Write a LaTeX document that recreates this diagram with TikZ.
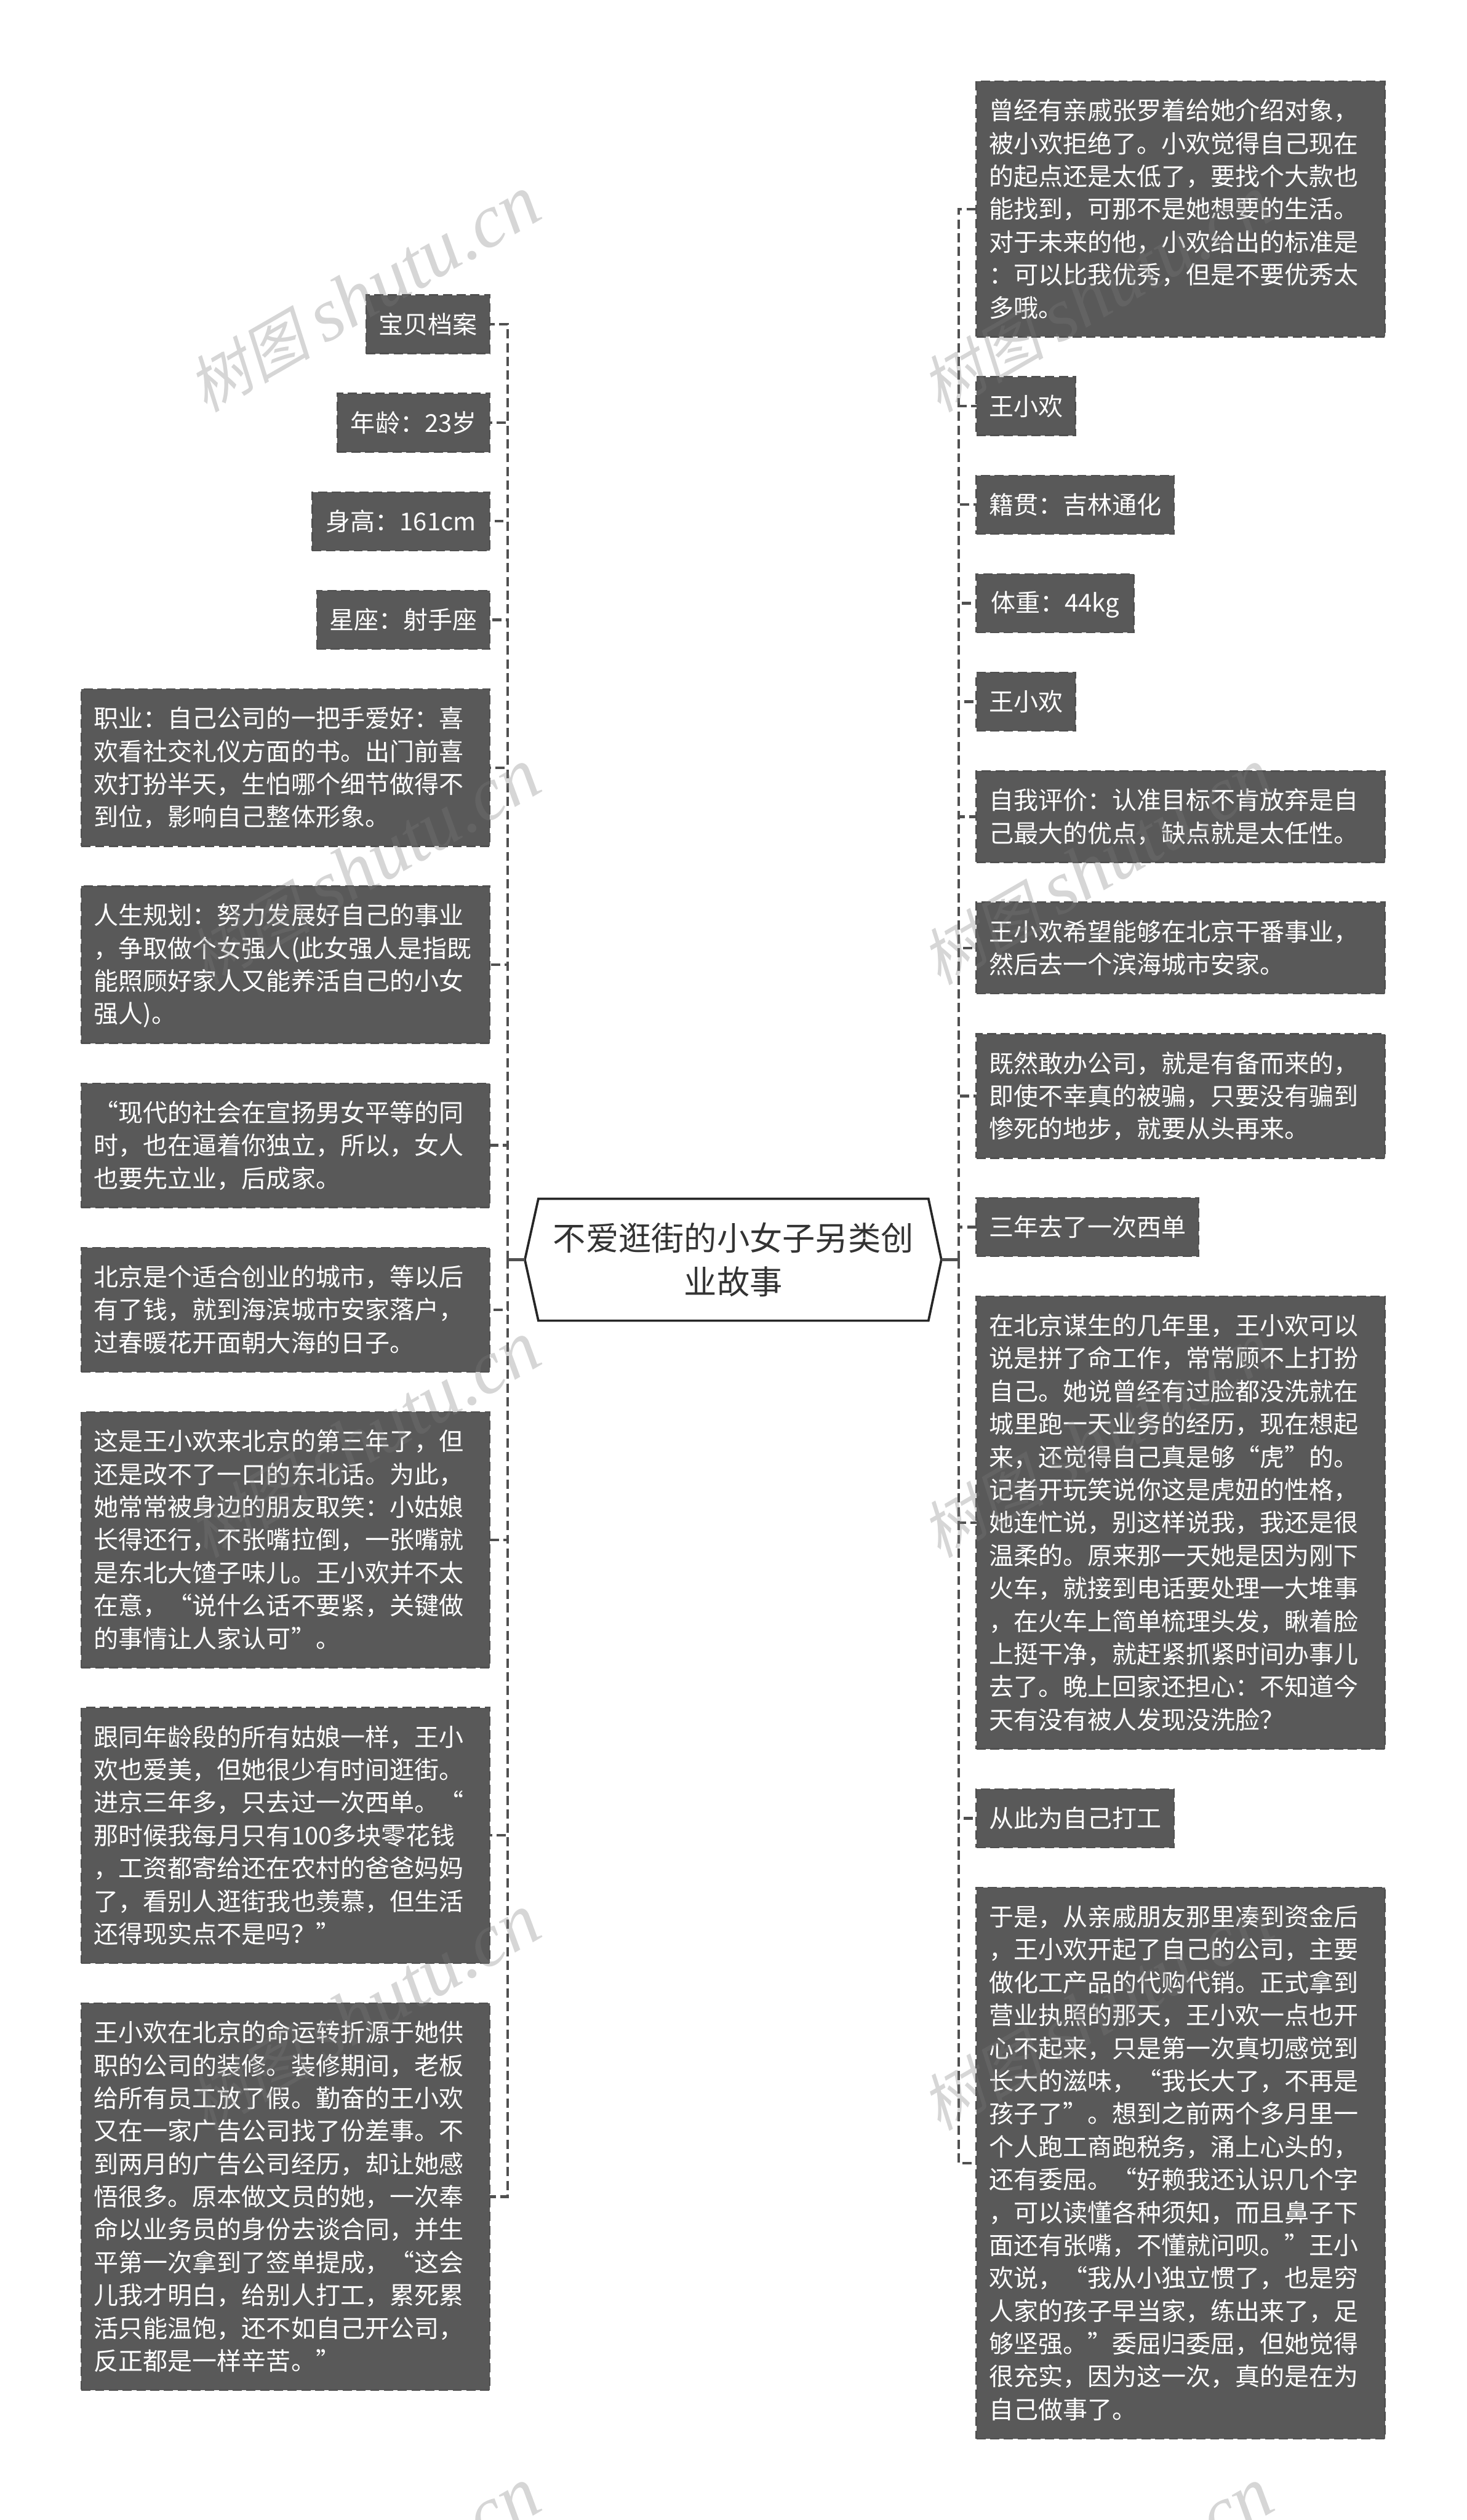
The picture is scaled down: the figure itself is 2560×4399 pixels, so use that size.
\documentclass[tikz,border=0pt]{standalone}
\usepackage{fontspec}
\setmainfont{Noto Sans CJK SC}
\newfontfamily\wmcjk[FakeSlant=0.22]{Noto Sans CJK SC}
\newfontfamily\wmlat{Liberation Serif}[ItalicFont=* Italic]
\newcommand{\shutu}{\fontsize{54pt}{60pt}\selectfont\wmcjk 树图 \fontsize{66pt}{60pt}\selectfont\wmlat\itshape shutu.cn}
\definecolor{leafgray}{HTML}{595959}
\definecolor{linegray}{HTML}{505050}
\definecolor{wmgray}{HTML}{7A7A7A}
\definecolor{rootink}{HTML}{333333}
\tikzset{
every leaf/.style={fill=leafgray, draw=linegray, line width=1.33pt, dash pattern=on 8pt off 4pt,
    text=white, font=\fontsize{21.5pt}{28.67pt}\selectfont, inner xsep=11pt, inner ysep=0pt, outer sep=0pt,
    execute at begin node={\rule{0pt}{.93em}}, execute at end node={\rule[-.18em]{0pt}{.18em}}},
}

\begin{document}
\begin{tikzpicture}[x=0.5pt, y=-0.5pt,
                        nl/.style={minimum height={(57.33*#1+44.67)*0.5pt}},
                        leafl/.style={every leaf, anchor=north east, nl=#1},
                        leafr/.style={every leaf, anchor=north west, nl=#1},
                        wide/.style={text width=334.5pt, align=left},
                        slim/.style={minimum width=#1*0.5pt},
                        link/.style={draw=linegray, line width=2.3pt, dash pattern=on 8pt off 4pt},
                        stem/.style={draw=linegray, line width=2.3pt},
                        hexa/.style={draw=black!85, line width=2pt, fill=white},
                        wm/.style={rotate=30, text=wmgray, text opacity=0.31},
                    ]
                    \useasboundingbox (0,0) rectangle (2560,4399);
                    \node[leafl=1, slim=215] (a1) at (855,515) {宝贝档案};
                    \node[leafl=1, slim=266] (a2) at (855,687) {年龄：23岁};
                    \node[leafl=1, slim=310] (a3) at (855,859) {身高：161cm};
                    \node[leafl=1, slim=300] (a4) at (855,1031) {星座：射手座};
                    \node[leafl=4, wide] (a5) at (855,1203) {职业：自己公司的一把手爱好：喜\\欢看社交礼仪方面的书。出门前喜\\欢打扮半天，生怕哪个细节做得不\\到位，影响自己整体形象。};
                    \node[leafl=4, wide] (a6) at (855,1547) {人生规划：努力发展好自己的事业\\，争取做个女强人(此女强人是指既\\能照顾好家人又能养活自己的小女\\强人)。};
                    \node[leafl=3, wide] (a7) at (855,1891) {“现代的社会在宣扬男女平等的同\\时，也在逼着你独立，所以，女人\\也要先立业，后成家。};
                    \node[leafl=3, wide] (a8) at (855,2178) {北京是个适合创业的城市，等以后\\有了钱，就到海滨城市安家落户，\\过春暖花开面朝大海的日子。};
                    \node[leafl=7, wide] (a9) at (855,2465) {这是王小欢来北京的第三年了，但\\还是改不了一口的东北话。为此，\\她常常被身边的朋友取笑：小姑娘\\长得还行，不张嘴拉倒，一张嘴就\\是东北大馇子味儿。王小欢并不太\\在意，“说什么话不要紧，关键做\\的事情让人家认可”。};
                    \node[leafl=7, wide] (a10) at (855,2981) {跟同年龄段的所有姑娘一样，王小\\欢也爱美，但她很少有时间逛街。\\进京三年多，只去过一次西单。“\\那时候我每月只有100多块零花钱\\，工资都寄给还在农村的爸爸妈妈\\了，看别人逛街我也羡慕，但生活\\还得现实点不是吗？”};
                    \node[leafl=11, wide] (a11) at (855,3497) {王小欢在北京的命运转折源于她供\\职的公司的装修。装修期间，老板\\给所有员工放了假。勤奋的王小欢\\又在一家广告公司找了份差事。不\\到两月的广告公司经历，却让她感\\悟很多。原本做文员的她，一次奉\\命以业务员的身份去谈合同，并生\\平第一次拿到了签单提成，“这会\\儿我才明白，给别人打工，累死累\\活只能温饱，还不如自己开公司，\\反正都是一样辛苦。”};
                    \node[leafr=7, wide] (b1) at (1704,142) {曾经有亲戚张罗着给她介绍对象，\\被小欢拒绝了。小欢觉得自己现在\\的起点还是太低了，要找个大款也\\能找到，可那不是她想要的生活。\\对于未来的他，小欢给出的标准是\\：可以比我优秀，但是不要优秀太\\多哦。};
                    \node[leafr=1, slim=173] (b2) at (1704,658) {王小欢};
                    \node[leafr=1, slim=343] (b3) at (1704,830) {籍贯：吉林通化};
                    \node[leafr=1, slim=275] (b4) at (1704,1002) {体重：44kg};
                    \node[leafr=1, slim=173] (b5) at (1704,1174) {王小欢};
                    \node[leafr=2, wide] (b6) at (1704,1346) {自我评价：认准目标不肯放弃是自\\己最大的优点，缺点就是太任性。};
                    \node[leafr=2, wide] (b7) at (1704,1575) {王小欢希望能够在北京干番事业，\\然后去一个滨海城市安家。};
                    \node[leafr=3, wide] (b8) at (1704,1805) {既然敢办公司，就是有备而来的，\\即使不幸真的被骗，只要没有骗到\\惨死的地步，就要从头再来。};
                    \node[leafr=1, slim=385] (b9) at (1704,2091) {三年去了一次西单};
                    \node[leafr=13, wide] (b10) at (1704,2263) {在北京谋生的几年里，王小欢可以\\说是拼了命工作，常常顾不上打扮\\自己。她说曾经有过脸都没洗就在\\城里跑一天业务的经历，现在想起\\来，还觉得自己真是够“虎”的。\\记者开玩笑说你这是虎妞的性格，\\她连忙说，别这样说我，我还是很\\温柔的。原来那一天她是因为刚下\\火车，就接到电话要处理一大堆事\\，在火车上简单梳理头发，瞅着脸\\上挺干净，就赶紧抓紧时间办事儿\\去了。晚上回家还担心：不知道今\\天有没有被人发现没洗脸？};
                    \node[leafr=1, slim=343] (b11) at (1704,3123) {从此为自己打工};
                    \node[leafr=16, wide] (b12) at (1704,3295) {于是，从亲戚朋友那里凑到资金后\\，王小欢开起了自己的公司，主要\\做化工产品的代购代销。正式拿到\\营业执照的那天，王小欢一点也开\\心不起来，只是第一次真切感觉到\\长大的滋味，“我长大了，不再是\\孩子了”。想到之前两个多月里一\\个人跑工商跑税务，涌上心头的，\\还有委屈。“好赖我还认识几个字\\，可以读懂各种须知，而且鼻子下\\面还有张嘴，不懂就问呗。”王小\\欢说，“我从小独立惯了，也是穷\\人家的孩子早当家，练出来了，足\\够坚强。”委屈归委屈，但她觉得\\很充实，因为这一次，真的是在为\\自己做事了。};
                    \coordinate (rootw) at (916,2199);
                    \coordinate (roote) at (1643,2199);
                    \coordinate (triml) at (886,2199);
                    \coordinate (trimr) at (1673,2199);
                    \node[minimum width=340pt, minimum height=106pt, inner sep=0pt] (root) at (1280,2199) {};
                    \draw[hexa] (root.north west) -- (root.north east) -- (roote) -- (root.south east) -- (root.south west) -- (rootw) -- cycle;
                    \node[text=rootink, align=center, font=\fontsize{28.6pt}{38.3pt}\selectfont, inner sep=0pt] (title) at (root.center) {不爱逛街的小女子另类创\\业故事};
                    \draw[stem] (rootw) -- (triml);
                    \draw[stem] (roote) -- (trimr);
                    \draw[link] (triml) |- (a1.east);
                    \draw[link] (triml) |- (a2.east);
                    \draw[link] (triml) |- (a3.east);
                    \draw[link] (triml) |- (a4.east);
                    \draw[link] (triml) |- (a5.east);
                    \draw[link] (triml) |- (a6.east);
                    \draw[link] (triml) |- (a7.east);
                    \draw[link] (triml) |- (a8.east);
                    \draw[link] (triml) |- (a9.east);
                    \draw[link] (triml) |- (a10.east);
                    \draw[link] (triml) |- (a11.east);
                    \draw[link] (trimr) |- (b1.west);
                    \draw[link] (trimr) |- (b2.west);
                    \draw[link] (trimr) |- (b3.west);
                    \draw[link] (trimr) |- (b4.west);
                    \draw[link] (trimr) |- (b5.west);
                    \draw[link] (trimr) |- (b6.west);
                    \draw[link] (trimr) |- (b7.west);
                    \draw[link] (trimr) |- (b8.west);
                    \draw[link] (trimr) |- (b9.west);
                    \draw[link] (trimr) |- (b10.west);
                    \draw[link] (trimr) |- (b11.west);
                    \draw[link] (trimr) |- (b12.west);
                    \begin{scope}
                        \clip (0,0) rectangle (2560,4399);
                        \node[wm] (w1) at (635,514) {\shutu};
                        \node[wm] (w2) at (635,1514) {\shutu};
                        \node[wm] (w3) at (635,2514) {\shutu};
                        \node[wm] (w4) at (635,3514) {\shutu};
                        \node[wm] (w5) at (635,4514) {\shutu};
                        \node[wm] (w6) at (1915,514) {\shutu};
                        \node[wm] (w7) at (1915,1514) {\shutu};
                        \node[wm] (w8) at (1915,2514) {\shutu};
                        \node[wm] (w9) at (1915,3514) {\shutu};
                        \node[wm] (w10) at (1915,4514) {\shutu};
                    \end{scope}
                \end{tikzpicture}
\end{document}
